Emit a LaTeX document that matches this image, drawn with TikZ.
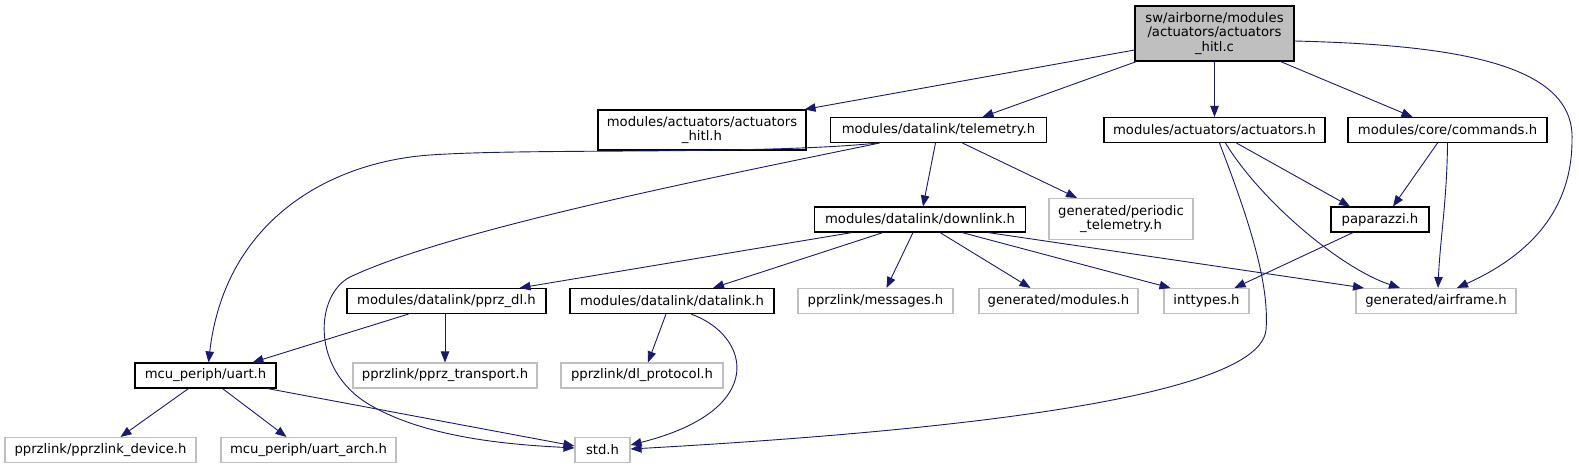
\documentclass[tikz,border=0pt]{standalone}
\usepackage{fontspec}
\setmainfont{DejaVu Sans}
\usepackage{xcolor}
\usepackage{tikz}
\usetikzlibrary{arrows.meta, positioning}
\definecolor{edgeblue}{RGB}{25,25,112}
\definecolor{extgray}{RGB}{191,191,191}

\begin{document}
\begin{tikzpicture}[x=1pt, y=-1pt,
  every node/.style = {font=\fontsize{13.2}{14.5}\selectfont},
  hdr/.style     = {rectangle, draw=black, line width=1.1pt, fill=white,
                    minimum height=25, inner sep=1pt, align=center},
  srcfile/.style = {hdr, fill=extgray},
  ext/.style     = {rectangle, draw=extgray, line width=1.1pt, fill=white,
                    minimum height=25, inner sep=1pt, align=center},
  dep/.style     = {-{Triangle[length=11pt,width=8.5pt]}, draw=edgeblue, line width=0.9pt}
]
\useasboundingbox (0,0) rectangle (1579,469);

%% ── ROW 0 (the file itself) ─────────────────────────────────────
\node[srcfile, minimum width=159, minimum height=55] at (1214.5,33.5) (hitlc)
  {sw/airborne/modules\\/actuators/actuators\\\_hitl.c};

%% ── ROW 1 y=130 ─────────────────────────────────────────────────
\node[hdr, minimum width=208, minimum height=40] at (702,130) (ahitl)
  {modules/actuators/actuators\\\_hitl.h};
\node[hdr, minimum width=216] at (938.5,130)  (telem) {modules/datalink/telemetry.h};
\node[hdr, minimum width=221] at (1214.5,130) (act)   {modules/actuators/actuators.h};
\node[hdr, minimum width=199] at (1447.5,130) (cmd)   {modules/core/commands.h};

%% ── ROW 2 y=219.5 ───────────────────────────────────────────────
\node[hdr, minimum width=211] at (920,219.5)  (downlink) {modules/datalink/downlink.h};
\node[ext, minimum width=144, minimum height=41] at (1121,219) (periodic)
  {generated/periodic\\\_telemetry.h};
\node[hdr, minimum width=98]  at (1380,219.5) (paparazzi) {paparazzi.h};

%% ── ROW 3 y=301 ─────────────────────────────────────────────────
\node[hdr, minimum width=199] at (446.5,301)  (pprzdl)   {modules/datalink/pprz\_dl.h};
\node[hdr, minimum width=204] at (672,301)    (datalink) {modules/datalink/datalink.h};
\node[ext, minimum width=155] at (875.5,301)  (messages) {pprzlink/messages.h};
\node[ext, minimum width=159] at (1058.5,301) (modules)  {generated/modules.h};
\node[ext, minimum width=85]  at (1206.5,301) (inttypes) {inttypes.h};
\node[ext, minimum width=160] at (1436,301)   (airframe) {generated/airframe.h};

%% ── ROW 4 y=375.5 ───────────────────────────────────────────────
\node[hdr, minimum width=141] at (205.5,375.5) (uart)      {mcu\_periph/uart.h};
\node[ext, minimum width=184] at (445,375.5)   (transport) {pprzlink/pprz\_transport.h};
\node[ext, minimum width=162] at (642,375.5)   (dlproto)   {pprzlink/dl\_protocol.h};

%% ── ROW 5 y=450 ─────────────────────────────────────────────────
\node[ext, minimum width=191] at (100.5,450) (device)   {pprzlink/pprzlink\_device.h};
\node[ext, minimum width=175] at (308.5,450) (uartarch) {mcu\_periph/uart\_arch.h};
\node[ext, minimum width=55]  at (602.5,450) (std)      {std.h};

%% ── EDGES from the .c file ──────────────────────────────────────
\draw[dep] ([yshift=-16.5]hitlc.west) -- ([xshift=-2]ahitl.north east);
\draw[dep] ([xshift=2]hitlc.south west) -- ([xshift=44]telem.north);
\draw[dep] (hitlc.south) -- (act.north);
\draw[dep] ([xshift=-14]hitlc.south east) -- ([xshift=-35]cmd.north);
\draw[dep] ([yshift=-7.5]hitlc.east) .. controls (1460,45) and (1575,65) .. (1572,140)
           .. controls (1572,210) and (1530,255) .. ([xshift=21]airframe.north);

%% ── EDGES from telemetry.h ──────────────────────────────────────
\draw[dep] ([xshift=-61]telem.south) .. controls (760,155) and (530,148) .. (430,155)
           .. controls (330,162) and (225,220) .. ([xshift=3]uart.north);
\draw[dep] ([xshift=-59]telem.south) .. controls (700,180) and (450,230) .. (350,277)
           .. controls (315,295) and (310,370) .. (370,405)
           .. controls (430,440) and (520,445) .. ([yshift=2]std.west);
\draw[dep] ([xshift=-3]telem.south) -- ([xshift=3]downlink.north);
\draw[dep] ([xshift=24]telem.south) -- ([xshift=-44]periodic.north);

%% ── EDGES from actuators.h and commands.h ───────────────────────
\draw[dep] ([xshift=5]act.south) .. controls (1245,210) and (1270,280) .. (1266,330)
           .. controls (1262,370) and (1150,420) .. ([yshift=1]std.east);
\draw[dep] ([xshift=22]act.south) -- ([xshift=-30]paparazzi.north);
\draw[dep] ([xshift=11]act.south) .. controls (1260,200) and (1340,268) .. ([xshift=-36]airframe.north);
\draw[dep] ([xshift=-10]cmd.south) -- ([xshift=13]paparazzi.north);
\draw[dep] (cmd.south) .. controls (1447,200) and (1440,240) .. ([xshift=2]airframe.north);

%% ── EDGES from downlink.h and paparazzi.h ───────────────────────
\draw[dep] ([xshift=-68]downlink.south) -- ([xshift=73]pprzdl.north);
\draw[dep] ([xshift=-37]downlink.south) -- ([xshift=41]datalink.north);
\draw[dep] ([xshift=-7]downlink.south) -- ([xshift=11]messages.north);
\draw[dep] ([xshift=20]downlink.south) -- ([xshift=-28]modules.north);
\draw[dep] ([xshift=42]downlink.south) -- ([xshift=-36]inttypes.north);
\draw[dep] ([xshift=68]downlink.south) -- ([xshift=-72]airframe.north);
\draw[dep] ([xshift=-27]paparazzi.south) -- ([xshift=28]inttypes.north);

%% ── EDGES from pprz_dl.h, datalink.h and uart.h ─────────────────
\draw[dep] ([xshift=-38]pprzdl.south) -- ([xshift=47]uart.north);
\draw[dep] (transport.north |- pprzdl.south) -- (transport.north);
\draw[dep] ([xshift=-6]datalink.south) -- ([xshift=6]dlproto.north);
\draw[dep] ([xshift=19]datalink.south) .. controls (750,335) and (770,410) .. ([yshift=5]std.east);
\draw[dep] ([xshift=-17]uart.south) -- ([xshift=20]device.north);
\draw[dep] ([xshift=17]uart.south) -- ([xshift=-22]uartarch.north);
\draw[dep] ([xshift=62]uart.south) -- ([yshift=4]std.west);

\end{tikzpicture}
\end{document}
